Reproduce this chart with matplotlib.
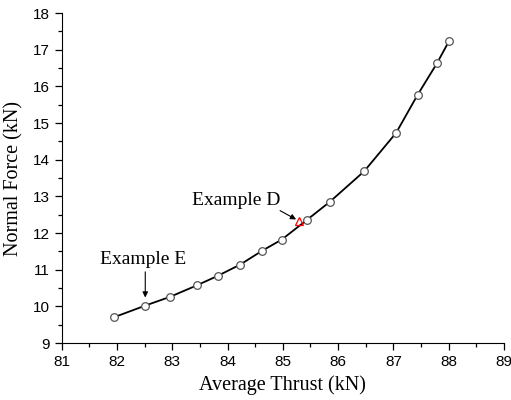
import matplotlib.pyplot as plt
from matplotlib.ticker import MultipleLocator

# Data
thrust = [81.94, 82.51, 82.96, 83.44, 83.82, 84.23, 84.63, 84.98, 85.43,
          85.85, 86.47, 87.05, 87.44, 87.79, 88.01]
normal_force = [9.70, 10.02, 10.26, 10.57, 10.83, 11.14, 11.52, 11.82, 12.35,
                12.85, 13.68, 14.73, 15.77, 16.63, 17.24]
example_d = (85.30, 12.32)

fig = plt.figure(figsize=(5.11, 4.0), dpi=100)
ax = fig.add_axes([0.121, 0.1425, 0.865, 0.825])

ax.plot(thrust, normal_force, color='black', lw=1.3, marker='o', ms=5.5,
        mfc='white', mec='#555555', mew=0.9, zorder=3)
ax.plot([example_d[0]], [example_d[1]], marker='^', ms=6, mfc='none',
        mec='red', mew=0.9, ls='none', zorder=4)

serif = 'Liberation Serif'
arrow = dict(arrowstyle='-|>', color='black', lw=0.8, shrinkA=0, shrinkB=0,
             mutation_scale=8)
ax.text(84.15, 12.88, 'Example D', fontsize=14, family=serif,
        ha='center', va='center')
ax.annotate('', xy=(85.24, 12.37), xytext=(84.95, 12.61), arrowprops=arrow)
ax.text(82.48, 11.29, 'Example E', fontsize=14, family=serif,
        ha='center', va='center')
ax.annotate('', xy=(82.51, 10.24), xytext=(82.51, 10.94), arrowprops=arrow)

ax.set_xlim(81, 89)
ax.set_ylim(9, 18)
ax.xaxis.set_major_locator(MultipleLocator(1))
ax.xaxis.set_minor_locator(MultipleLocator(0.5))
ax.yaxis.set_major_locator(MultipleLocator(1))
ax.yaxis.set_minor_locator(MultipleLocator(0.5))
ax.tick_params(which='both', direction='out', width=0.9)
ax.tick_params(which='major', length=5, labelsize=11)
ax.tick_params(which='minor', length=3)
for lbl in ax.get_xticklabels() + ax.get_yticklabels():
    lbl.set_family('Liberation Sans')

ax.spines['top'].set_visible(False)
ax.spines['right'].set_visible(False)

ax.set_xlabel('Average Thrust (kN)', fontsize=14.5, family=serif, labelpad=5)
ax.set_ylabel('Normal Force (kN)', fontsize=14.5, family=serif, labelpad=7)

plt.savefig('out.png', dpi=100)
